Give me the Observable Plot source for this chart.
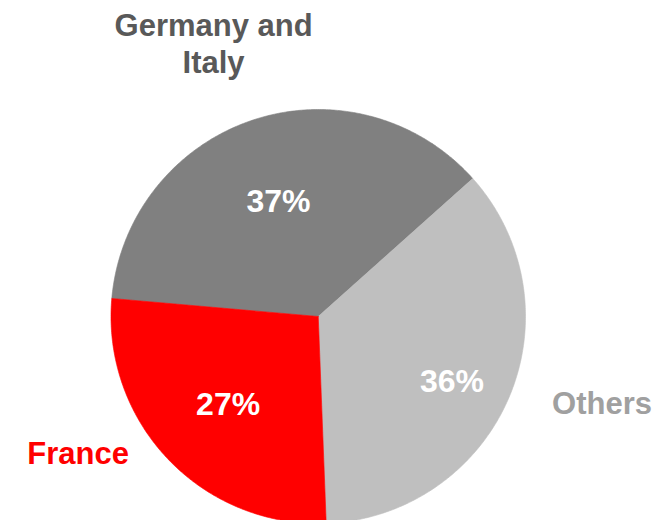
<!DOCTYPE html>
<html>
<head>
<meta charset="utf-8">
<script src="https://cdn.jsdelivr.net/npm/d3@7"></script>
<script src="https://cdn.jsdelivr.net/npm/@observablehq/plot@0.6"></script>
<style>
  html, body { margin: 0; padding: 0; background: #fff; }
  #chart svg { display: block; }
</style>
</head>
<body>
<div id="chart"></div>
<script>
// ---- data ----
const categories = ["Germany and Italy", "Others", "France"];
const shares = [37, 36, 27];
const labelTexts = ["Germany and\nItaly", "Others", "France"];

// ---- styles / layout (kept apart from data) ----
const sliceColors = ["#808080", "#bfbfbf", "#ff0000"];
const labelColors = ["#595959", "#a0a0a0", "#ff0000"];
const startAngleDeg = -85;               // first slice starts here (clockwise from 12 o'clock)
const pctOffsets = [[-0.192, 0.552], [0.645, -0.313], [-0.435, -0.424]];
const nameOffsets = [[-0.505, 1.483, "top"], [1.369, -0.425, "middle"], [-1.159, -0.664, "middle"]];

// ---- geometry from the data via d3.pie ----
const arcs = d3.pie().sort(null).startAngle(startAngleDeg * Math.PI / 180)(shares);
const slicePts = [];
arcs.forEach((a, i) => {
  const name = categories[i];
  slicePts.push({name, x: 0, y: 0});
  const n = Math.max(2, Math.ceil((a.endAngle - a.startAngle) / (Math.PI / 360)));
  for (let k = 0; k <= n; k++) {
    const t = a.startAngle + (a.endAngle - a.startAngle) * k / n;
    slicePts.push({name, x: Math.sin(t), y: Math.cos(t)});
  }
  slicePts.push({name, x: 0, y: 0});
});

const pctLabels = categories.map((c, i) => ({
  name: c, text: `${shares[i]}%`, x: pctOffsets[i][0], y: pctOffsets[i][1]
}));
const nameLabels = categories.map((c, i) => ({
  name: c, text: labelTexts[i], x: nameOffsets[i][0], y: nameOffsets[i][1], anchor: nameOffsets[i][2], color: labelColors[i]
}));

const font = "'Liberation Sans', Arial, sans-serif";

const chart = Plot.plot({
  width: 671,
  height: 520,
  margin: 0,
  style: {fontFamily: font, background: "#fff"},
  x: {domain: [-1, 1], range: [110.5, 525], axis: null},
  y: {domain: [-1, 1], range: [523, 109], axis: null},
  color: {domain: categories, range: sliceColors},
  marks: [
    Plot.line(slicePts, {x: "x", y: "y", z: "name", fill: "name", stroke: "name", strokeWidth: 0.6, curve: "linear"}),
    Plot.text(pctLabels, {x: "x", y: "y", text: "text", fill: "#ffffff", fontSize: 32, fontWeight: "bold", textAnchor: "middle", lineAnchor: "middle"}),
    Plot.text(nameLabels.filter(d => d.anchor === "top"), {x: "x", y: "y", text: "text", fill: "color", fontSize: 31, fontWeight: "bold", textAnchor: "middle", lineAnchor: "top", lineHeight: 1.19}),
    Plot.text(nameLabels.filter(d => d.anchor === "middle"), {x: "x", y: "y", text: "text", fill: "color", fontSize: 31, fontWeight: "bold", textAnchor: "middle", lineAnchor: "middle"})
  ]
});
document.getElementById("chart").appendChild(chart);
</script>
</body>
</html>
